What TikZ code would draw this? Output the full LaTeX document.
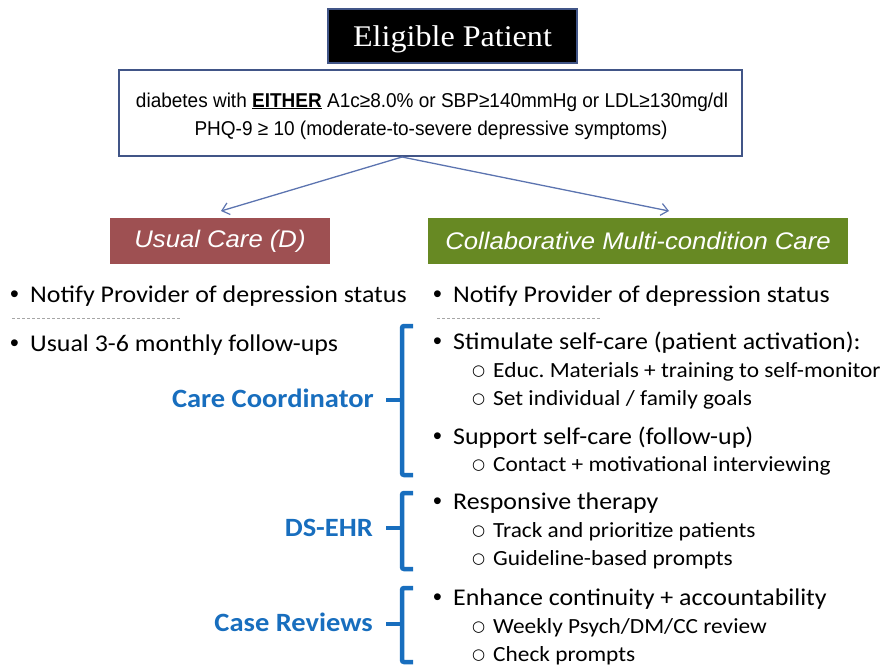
\documentclass[tikz,border=0pt]{standalone}
\usepackage{fontspec}
\setmainfont{Carlito}[FakeStretch=1.08]
\newfontfamily\arialf{Liberation Sans}[FakeStretch=0.95]
\newfontfamily\headf{Liberation Sans}[FakeStretch=1.07]
\newfontfamily\bulf{Liberation Sans}
\newfontfamily\seriff{Liberation Serif}[FakeStretch=1.07]
\newfontfamily\dejavuf{DejaVu Sans}
\usetikzlibrary{arrows.meta}
\definecolor{frameblue}{RGB}{65,85,135}
\definecolor{arrowblue}{RGB}{92,116,176}
\definecolor{usualred}{RGB}{158,80,82}
\definecolor{cmcgreen}{RGB}{103,137,35}
\definecolor{cblue}{RGB}{24,110,190}
\tikzset{
  bul/.style={anchor=base west, inner sep=0pt, font=\fontsize{24}{24}\selectfont},
  subit/.style={anchor=base west, inner sep=0pt, font=\fontsize{21.6}{21.6}\selectfont},
  mark1/.style={anchor=base west, inner sep=0pt, font=\bulf\fontsize{25}{25}\selectfont},
  mark2/.style={anchor=base west, inner sep=0pt, font=\dejavuf\fontsize{15}{15}\selectfont},
  lab/.style={anchor=base east, inner sep=0pt, font=\fontsize{26.4}{26.4}\selectfont\bfseries, text=cblue},
  bracestyle/.style={draw=cblue, line width=4.5pt, rounded corners=2pt},
  head/.style={inner sep=0pt, font=\headf\itshape\fontsize{24}{24}\selectfont, text=white},
  sep/.style={draw=gray!70, line width=0.5pt, densely dashed},
  flow/.style={draw=arrowblue, line width=1.3pt, -{Straight Barb[length=7pt,width=12pt,line width=1.2pt]}}
}
\begin{document}
\begin{tikzpicture}[x=1pt,y=-1pt]
\useasboundingbox (0,0) rectangle (883,665);
% title
\draw[frameblue, line width=2.5pt, fill=black] (328,9) rectangle (577,63);
\node[anchor=base, inner sep=0pt, text=white, font=\seriff\fontsize{30}{30}\selectfont] (title) at (452.5,46) {Eligible Patient};
% criteria box
\draw[frameblue, line width=2.8pt, fill=white] (119,70) rectangle (742,156);
\node[anchor=base, inner sep=0pt, font=\arialf\fontsize{20}{20}\selectfont] (crit1) at (432,107) {diabetes with \underline{\textbf{EITHER}} A1c≥8.0\% or SBP≥140mmHg or LDL≥130mg/dl};
\node[anchor=base, inner sep=0pt, font=\arialf\fontsize{20}{20}\selectfont] (crit2) at (431,135) {PHQ-9 ≥ 10 (moderate-to-severe depressive symptoms)};
% arrows
\coordinate (split) at (402,157);
\coordinate (lend) at (221,211);
\coordinate (rend) at (669,211);
\draw[flow] (split) -- (lend);
\draw[flow] (split) -- (rend);
% headers
\fill[usualred] (110,218) rectangle (330,264);
\node[head] (usual) at (220,241) {Usual Care (D)};
\fill[cmcgreen] (428,218) rectangle (848,264);
\node[head] (cmc) at (638,241) {Collaborative Multi-condition Care};
% left column
\node[mark1] (lb1) at (10,302) {•};
\node[bul] (l1) at (30,302) {Notify Provider of depression status};
\draw[sep] (12,318) -- (180,318);
\node[mark1] (lb2) at (10,351) {•};
\node[bul] (l2) at (30,351) {Usual 3-6 monthly follow-ups};
% right column
\node[mark1] (rb1) at (433,302) {•};
\node[bul] (r1) at (453,302) {Notify Provider of depression status};
\draw[sep] (437,318) -- (600,318);
\node[mark1] (rb2) at (433,349) {•};
\node[bul] (r2) at (453,349) {Stimulate self-care (patient activation):};
\node[mark2] (rc1) at (472,375) {○};
\node[subit] (r3) at (493,377) {Educ.\ Materials + training to self-monitor};
\node[mark2] (rc2) at (472,403) {○};
\node[subit] (r4) at (493,405) {Set individual / family goals};
\node[mark1] (rb3) at (433,444) {•};
\node[bul] (r5) at (453,444) {Support self-care (follow-up)};
\node[mark2] (rc3) at (472,469) {○};
\node[subit] (r6) at (493,471) {Contact + motivational interviewing};
\node[mark1] (rb4) at (433,509) {•};
\node[bul] (r7) at (453,509) {Responsive therapy};
\node[mark2] (rc4) at (472,535) {○};
\node[subit] (r8) at (493,537) {Track and prioritize patients};
\node[mark2] (rc5) at (472,563) {○};
\node[subit] (r9) at (493,565) {Guideline-based prompts};
\node[mark1] (rb5) at (433,605) {•};
\node[bul] (r10) at (453,605) {Enhance continuity + accountability};
\node[mark2] (rc6) at (472,631) {○};
\node[subit] (r11) at (493,633) {Weekly Psych/DM/CC review};
\node[mark2] (rc7) at (472,659) {○};
\node[subit] (r12) at (493,661) {Check prompts};
% labels
\node[lab] (cc) at (374,407) {Care Coordinator};
\node[lab] (ehr) at (373,536) {DS-EHR};
\node[lab] (cr) at (373,631) {Case Reviews};
% braces
\draw[bracestyle] (413,326) -- (402,326) -- (402,475) -- (413,475);
\draw[bracestyle, rounded corners=0pt] (386,400) -- (402,400);
\draw[bracestyle] (413,493) -- (402,493) -- (402,569) -- (413,569);
\draw[bracestyle, rounded corners=0pt] (386,528) -- (402,528);
\draw[bracestyle] (413,588) -- (402,588) -- (402,662) -- (413,662);
\draw[bracestyle, rounded corners=0pt] (386,624) -- (402,624);
\end{tikzpicture}
\end{document}
